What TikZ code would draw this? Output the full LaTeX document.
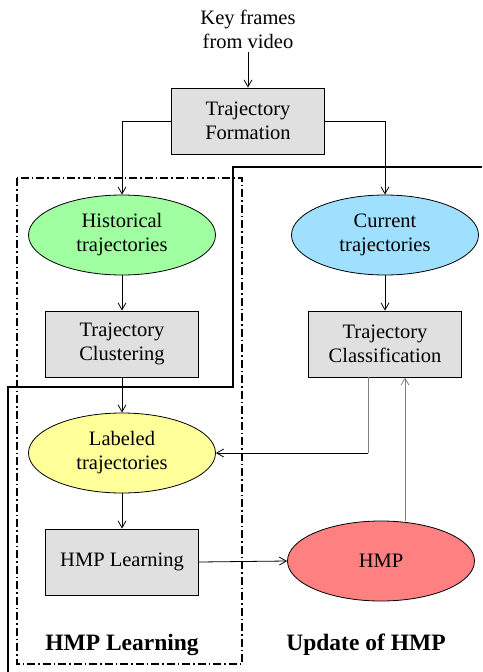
\documentclass[tikz,border=0pt]{standalone}
\usepackage{fontspec}
\setmainfont{Liberation Serif}
\usetikzlibrary{shapes.geometric,arrows.meta}
\definecolor{boxgray}{HTML}{E0E0E0}
\definecolor{histgreen}{HTML}{A0FFA0}
\definecolor{curblue}{HTML}{A0E0FF}
\definecolor{labyellow}{HTML}{FFFF99}
\definecolor{hmpred}{HTML}{FF8080}
\begin{document}
\begin{tikzpicture} [x = 1pt, y = -1pt, -> , >= {Straight Barb[length=7pt, width=8pt]}, line width = 0.8pt, node distance = 109pt,
        txt/.style = {font = \fontsize{20.5}{24}\selectfont, align = center},
        box/.style = {txt, draw, fill = boxgray, minimum width = 153pt, minimum height = 66pt},
        blob/.style = {txt, draw, ellipse, minimum width = 187pt, minimum height = 80pt},
        title/.style = {font = \fontsize{23.5}{28}\selectfont\bfseries}]
        \useasboundingbox (0,0) rectangle (482,672);

        % regions
        \draw [-, line width = 1.5pt] (482,167) -- (233,167) -- (233,387) -- (8,387) -- (8,672);
        \draw [-, line width = 1.2pt, dash pattern = on 8pt off 3pt on 1.5pt off 3pt] (17,178) rectangle (242,664);

        \node [txt] (key) at (248,29) {Key frames\\from video};
        \node [box] (form) at (248,121) {Trajectory\\Formation};

        \node [blob, fill = histgreen] (hist) at (122,235) {Historical\\trajectories};
        \node [box] (clus) [below of = hist] {Trajectory\\Clustering};
        \node [blob, fill = labyellow] (lab) [below of = clus] {Labeled\\trajectories};
        \node [box] (learn) [below of = lab] {HMP Learning};

        \node [blob, fill = curblue] (cur) at (385,235) {Current\\trajectories};
        \node [box] (cls) [below of = cur] {Trajectory\\Classification};
        \node [blob, fill = hmpred] (hmp) at (381,561) {HMP};

        \node [title] (ltitle) at (122,645) {HMP Learning};
        \node [title] (rtitle) at (366,645) {Update of HMP};

        \coordinate (dn) at ([xshift = -17pt] cls.south);
        \coordinate (bend) at (dn |- lab.east);
        \coordinate (up) at ([xshift = 20pt] cls.south);

        \path (key) edge (form);
        \draw (form.west) -| (hist.north);
        \draw (form.east) -| (cur.north);
        \path (hist) edge (clus);
        \path (clus) edge (lab);
        \path (lab) edge (learn);
        \path (cur) edge (cls);
        \draw [-, gray] (dn) -- (bend);
        \draw (bend) -- (lab.east);
        \draw (learn.east) -- (hmp.west);
        \draw [gray] (hmp.north -| up) -- (up);

    \end{tikzpicture}
\end{document}
